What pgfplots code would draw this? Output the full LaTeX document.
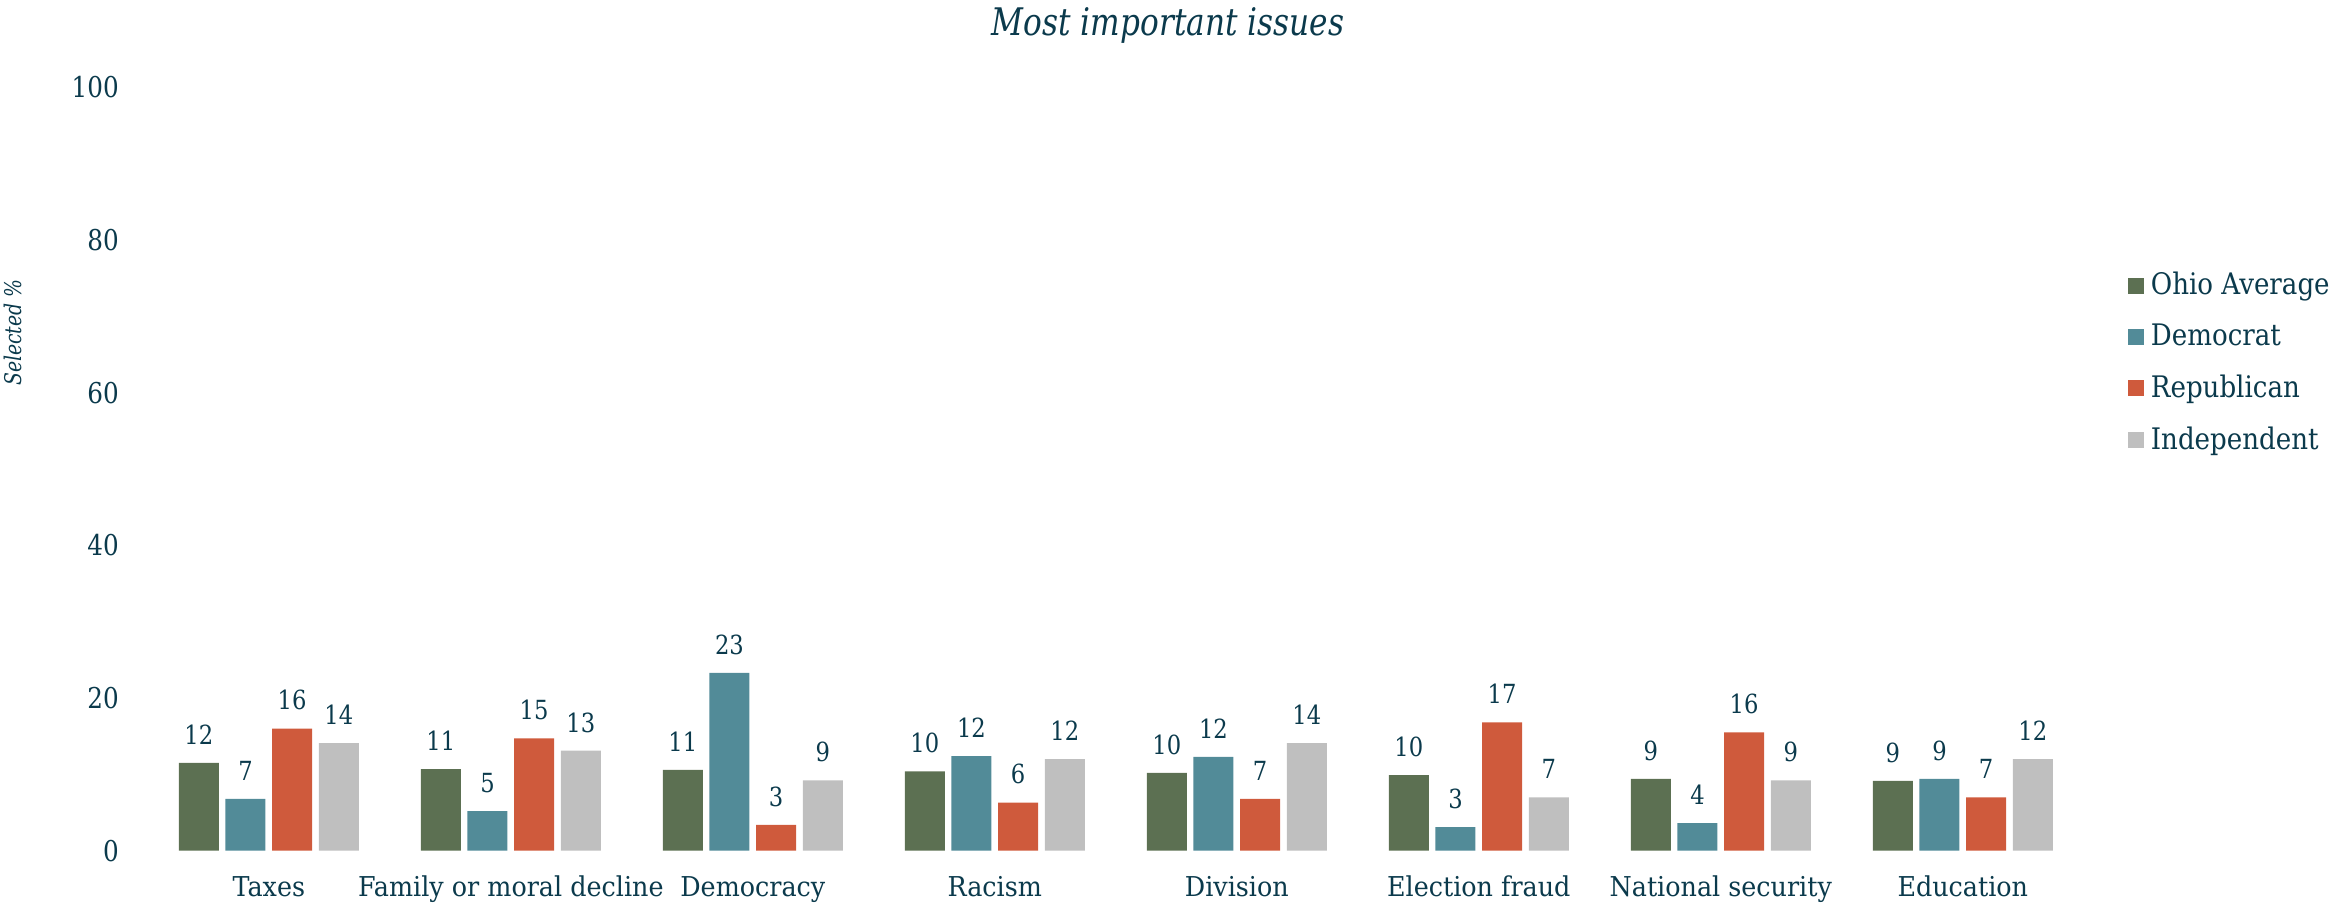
\documentclass[border=0pt]{standalone}
\usepackage{pgfplots}
\pgfplotsset{compat=1.18}
\usepackage{pgfplotstable}
\usepackage{fontspec}
\setmainfont{DejaVu Serif}
\newfontfamily\condfont{DejaVu Serif}[FakeStretch=0.86]
\newfontfamily\catfont{DejaVu Serif}[FakeStretch=0.93]
\newfontfamily\legfont{DejaVu Serif}[FakeStretch=0.88]
\newfontfamily\titlefont{DejaVu Serif}[FakeStretch=0.82]
\definecolor{cgreen}{HTML}{5C7052}
\definecolor{cblue}{HTML}{528B98}
\definecolor{cred}{HTML}{CF5A3C}
\definecolor{cgray}{HTML}{BFBFBF}
\definecolor{textc}{HTML}{0B3A4C}
\pgfplotstableread{
x oh ohl dem deml rep repl ind indl
0 11.5 12 6.8 7 16.0 16 14.1 14
1 10.7 11 5.2 5 14.7 15 13.1 13
2 10.6 11 23.3 23 3.4 3 9.2 9
3 10.4 10 12.4 12 6.3 6 12.0 12
4 10.2 10 12.3 12 6.8 7 14.1 14
5 9.9 10 3.1 3 16.8 17 7.0 7
6 9.4 9 3.6 4 15.5 16 9.2 9
7 9.15 9 9.4 9 7.0 7 12.0 12
}\datatable
\begin{document}
\begin{tikzpicture}
\path[use as bounding box] (0,0) rectangle (699.3pt,271.2pt);
\begin{axis}[
  at={(44.34pt,15.99pt)}, anchor=south west,
  width=580.8pt, height=229.02pt, scale only axis,
  xmin=-0.5, xmax=7.5, ymin=0, ymax=100,
  axis line style={draw=none}, major tick length=0pt, tick style={draw=none},
  ytick={0,20,...,100},
  xtick={0,...,7},
  xticklabels={Taxes,Family or moral decline,Democracy,Racism,Division,Election fraud,National security,Education},
  /pgf/number format/assume math mode=true,
  yticklabel style={font=\condfont\fontsize{8.6}{10}\selectfont, text=textc, anchor=east, inner sep=0pt, xshift=-8.5pt},
  xticklabel style={font=\catfont\fontsize{8.2}{9}\selectfont, text=textc, anchor=base, inner sep=0pt, yshift=-13.6pt},
  ybar, bar width=12pt,
  point meta=explicit symbolic,
  nodes near coords={\pgfplotspointmeta},
  nodes near coords style={font=\condfont\fontsize{7.9}{9}\selectfont, text=textc, anchor=base, inner sep=0pt, yshift=5.6pt},
  ylabel={Selected \%},
  ylabel style={font=\titlefont\itshape\fontsize{6.9}{8}\selectfont, text=textc, at={(axis description cs:-0.0699,0.6787)}, anchor=center, rotate=0},
  title={Most important issues},
  title style={font=\titlefont\itshape\fontsize{11.4}{13}\selectfont, text=textc, at={(axis description cs:0.527,1.0423)}, anchor=base, inner sep=0pt},
  legend style={draw=none, fill=none, at={(axis description cs:1.0226,0.6389)}, anchor=west, inner sep=0pt, row sep=3.3pt, font=\legfont\fontsize{8.9}{10}\selectfont, text=textc, legend cell align=left},
  legend image code/.code={\fill (0pt,-2.4pt) rectangle (4.8pt,2.4pt);},
]
\addplot[fill=cgreen, draw=none, bar shift=-21pt] table[x=x, y=oh, meta=ohl] {\datatable};
\addplot[fill=cblue, draw=none, bar shift=-7pt] table[x=x, y=dem, meta=deml] {\datatable};
\addplot[fill=cred, draw=none, bar shift=7pt] table[x=x, y=rep, meta=repl] {\datatable};
\addplot[fill=cgray, draw=none, bar shift=21pt] table[x=x, y=ind, meta=indl] {\datatable};
\legend{Ohio Average,Democrat,Republican,Independent}
\end{axis}
\end{tikzpicture}
\end{document}
